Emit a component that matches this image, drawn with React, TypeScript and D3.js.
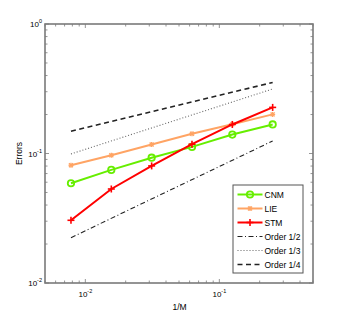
import React from 'react';
import * as d3 from 'd3';

// 1/M values (M = 128 ... 4)
const stepSizes = [1 / 128, 1 / 64, 1 / 32, 1 / 16, 1 / 8, 1 / 4];

const cnmErrors = [0.0589, 0.0747, 0.0928, 0.1125, 0.14, 0.1676];
const lieErrors = [0.0812, 0.097, 0.1174, 0.142, 0.168, 0.2005];
const stmErrors = [0.0305, 0.0532, 0.0802, 0.118, 0.1676, 0.227];

// reference slopes, read at the two ends
const refX = [1 / 128, 1 / 4];
const orderHalf = [0.0224, 0.125];
const orderThird = [0.0992, 0.315];
const orderQuarter = [0.1487, 0.3536];

const xTickExps = [-2, -1];
const yTickExps = [-2, -1, 0];

const width = 346;
const height = 319;
const margin = { top: 24, right: 33, bottom: 36, left: 45 };
const font = '"Liberation Sans", Arial, sans-serif';

type Series = {
  name: string;
  values: number[];
  color: string;
  marker: 'circle' | 'star' | 'plus';
};

const series: Series[] = [
  { name: 'CNM', values: cnmErrors, color: '#66ee00', marker: 'circle' },
  { name: 'LIE', values: lieErrors, color: '#ffa464', marker: 'star' },
  { name: 'STM', values: stmErrors, color: '#ff0000', marker: 'plus' },
];

const refs = [
  { name: 'Order 1/2', values: orderHalf, color: '#222', dash: '5,2.5,1,2.5', w: 1.1 },
  { name: 'Order 1/3', values: orderThird, color: '#666', dash: '1,2', w: 1.1 },
  { name: 'Order 1/4', values: orderQuarter, color: '#222', dash: '5,3.5', w: 1.6 },
];

const Marker = ({ kind, x, y, color }: { kind: string; x: number; y: number; color: string }) => {
  if (kind === 'circle')
    return <circle cx={x} cy={y} r={3.2} fill="none" stroke={color} strokeWidth={1.8} />;
  if (kind === 'star')
    return (
      <g stroke={color} strokeWidth={1.3}>
        <line x1={x - 2.5} x2={x + 2.5} y1={y} y2={y} />
        <line x1={x} x2={x} y1={y - 2.5} y2={y + 2.5} />
        <line x1={x - 2} x2={x + 2} y1={y - 2} y2={y + 2} />
        <line x1={x - 2} x2={x + 2} y1={y + 2} y2={y - 2} />
      </g>
    );
  return (
    <g stroke={color} strokeWidth={1.6}>
      <line x1={x - 3.5} x2={x + 3.5} y1={y} y2={y} />
      <line x1={x} x2={x} y1={y - 3.5} y2={y + 3.5} />
    </g>
  );
};

const PowLabel = ({ exp, x, y, anchor }: { exp: number; x: number; y: number; anchor: string }) => (
  <text x={x} y={y} textAnchor={anchor} fontFamily={font} fontSize={8} fill="#000">
    10
    <tspan dy={-4} fontSize={5.5}>
      {exp}
    </tspan>
  </text>
);

export default function App() {
  const x = d3
    .scaleLog()
    .domain([0.005, 0.5])
    .range([margin.left, width - margin.right]);
  const y = d3
    .scaleLog()
    .domain([0.01, 1])
    .range([height - margin.bottom, margin.top]);

  const line = d3
    .line<[number, number]>()
    .x((d) => x(d[0]))
    .y((d) => y(d[1]));

  const [x0, x1] = x.range();
  const [y0, y1] = y.range();

  const xMinor = x.ticks();
  const yMinor = y.ticks();
  const isMajor = (v: number) => Math.abs(Math.log10(v) - Math.round(Math.log10(v))) < 1e-6;

  const legendX = 233;
  const legendY = 185;
  const rowH = 14;

  return (
    <svg
      width={width}
      height={height}
      style={{ position: 'absolute', left: 0, top: 0, background: '#fff' }}
    >
      {/* reference order lines */}
      {refs.map((r) => (
        <path
          key={r.name}
          d={line(refX.map((v, i) => [v, r.values[i]]) as [number, number][]) || ''}
          fill="none"
          stroke={r.color}
          strokeWidth={r.w}
          strokeDasharray={r.dash}
        />
      ))}

      {/* data series */}
      {series.map((s) => (
        <g key={s.name}>
          <path
            d={line(stepSizes.map((v, i) => [v, s.values[i]]) as [number, number][]) || ''}
            fill="none"
            stroke={s.color}
            strokeWidth={2}
          />
          {stepSizes.map((v, i) => (
            <Marker key={i} kind={s.marker} x={x(v)} y={y(s.values[i])} color={s.color} />
          ))}
        </g>
      ))}

      {/* frame and ticks */}
      <g stroke="#7a7a7a">
        {xMinor.map((v) => {
          const len = isMajor(v) ? 4 : 2.5;
          return (
            <g key={'x' + v}>
              <line x1={x(v)} x2={x(v)} y1={y0} y2={y0 - len} strokeWidth={0.8} />
              <line x1={x(v)} x2={x(v)} y1={y1} y2={y1 + len} strokeWidth={0.8} />
            </g>
          );
        })}
        {yMinor.map((v) => {
          const len = isMajor(v) ? 4 : 2.5;
          return (
            <g key={'y' + v}>
              <line x1={x0} x2={x0 + len} y1={y(v)} y2={y(v)} strokeWidth={0.8} />
              <line x1={x1} x2={x1 - len} y1={y(v)} y2={y(v)} strokeWidth={0.8} />
            </g>
          );
        })}
        <rect x={x0} y={y1} width={x1 - x0} height={y0 - y1} fill="none" strokeWidth={1.6} />
      </g>

      {/* tick labels */}
      {xTickExps.map((e) => (
        <PowLabel key={'xl' + e} exp={e} x={x(Math.pow(10, e))} y={y0 + 14} anchor="middle" />
      ))}
      {yTickExps.map((e) => (
        <PowLabel key={'yl' + e} exp={e} x={x0 - 3} y={y(Math.pow(10, e)) + 3} anchor="end" />
      ))}

      {/* axis titles */}
      <text x={(x0 + x1) / 2 + 0.5} y={y0 + 27} textAnchor="middle" fontFamily={font} fontSize={8.5}>
        1/M
      </text>
      <text
        transform={`translate(22,${(y0 + y1) / 2}) rotate(-90)`}
        textAnchor="middle"
        fontFamily={font}
        fontSize={8.5}
      >
        Errors
      </text>

      {/* legend */}
      <rect x={legendX} y={legendY} width={70} height={88} fill="#fff" stroke="#555" strokeWidth={1} />
      {[...series, ...refs].map((item, i) => {
        const cy = legendY + 9.5 + i * rowH;
        const isSeries = 'marker' in item;
        return (
          <g key={item.name}>
            <line
              x1={legendX + 4.5}
              x2={legendX + 29.5}
              y1={cy}
              y2={cy}
              stroke={item.color}
              strokeWidth={isSeries ? 2 : (item as any).w}
              strokeDasharray={isSeries ? undefined : (item as any).dash}
            />
            {isSeries && (
              <Marker kind={(item as Series).marker} x={legendX + 17} y={cy} color={item.color} />
            )}
            <text x={legendX + 31.5} y={cy + 3} fontFamily={font} fontSize={8.5} fill="#000">
              {item.name}
            </text>
          </g>
        );
      })}
    </svg>
  );
}
